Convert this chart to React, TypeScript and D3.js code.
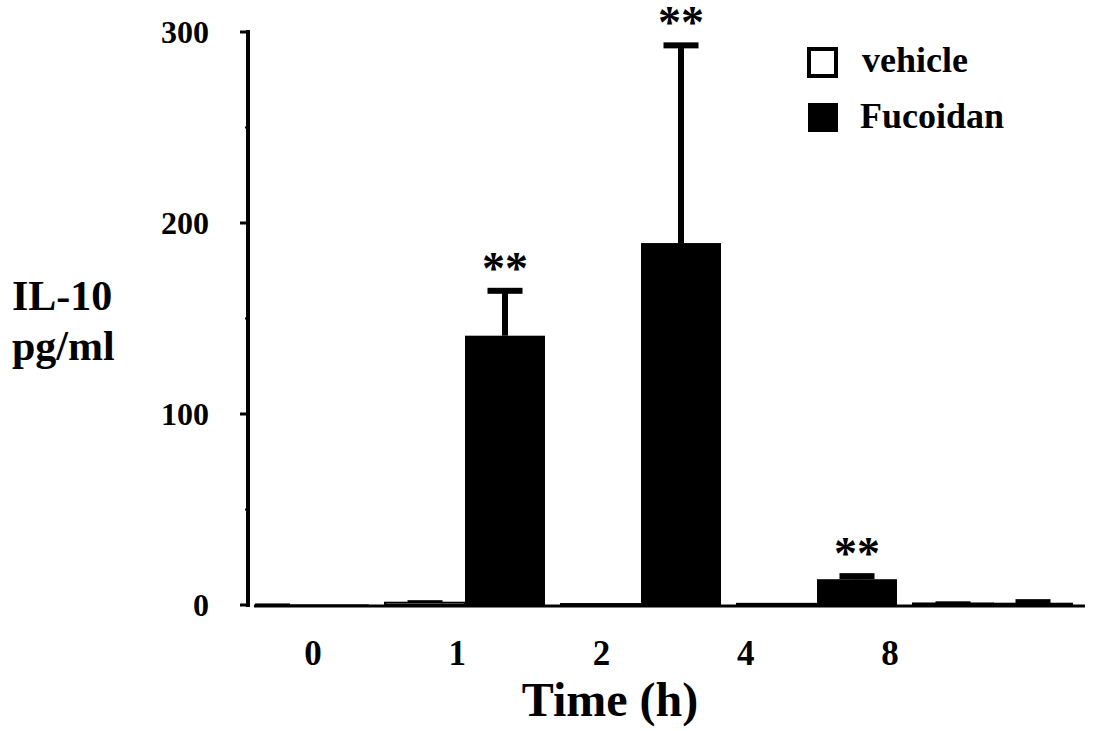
import React from "react"
import * as d3 from "d3"

// hours after treatment
const groups = ["0", "1", "2", "4", "8"]
// IL-10 (pg/ml), mean and SD
const vehicleMean = [0.3, 1.2, 0.5, 0.6, 0.8]
const vehicleErr = [0, 0.8, 0, 0, 0.6]
const fucoidanMean = [0.3, 141, 189.5, 13.5, 1.2]
const fucoidanErr = [0, 23.5, 103.5, 1.6, 0.3]
const marked = [false, true, true, true, false]
const yTicks = [0, 100, 200, 300]
const yMinor = [50, 150, 250]

const W = 1095
const H = 731
const FONT = '"Liberation Serif", "Times New Roman", serif'

export default function App() {
  const y = d3.scaleLinear().domain([0, 300]).range([605, 32])
  // bar pairs sit on one grid, the hour labels on another (as in the original)
  const pair = d3.scalePoint().domain(groups).range([289, 993])
  const label = d3.scalePoint().domain(groups).range([313, 890])
  const barW = 80
  const capW = 35
  const axisLeft = 256

  const bars = groups.map((g, i) => {
    const c = pair(g) as number
    return {
      g,
      vx: Math.max(c - barW, axisLeft),
      fx: c,
      v: vehicleMean[i],
      ve: vehicleErr[i],
      f: fucoidanMean[i],
      fe: fucoidanErr[i],
      star: marked[i],
    }
  })

  return (
    <svg width={W} height={H} style={{ position: "absolute", left: 0, top: 0, background: "#fff" }}
      fontFamily={FONT} fontWeight="bold">
      {bars.map(b => {
        const vw = b.fx - b.vx
        const fc = b.fx + barW / 2
        const vc = b.vx + vw / 2
        const capTop = y(b.f + b.fe)
        return (
          <g key={b.g}>
            {/* vehicle */}
            <rect x={b.vx} y={y(b.v)} width={vw} height={y(0) - y(b.v)} fill="#fff" stroke="#000" strokeWidth={2} />
            {b.ve > 0 && (
              <rect x={vc - capW / 2} y={y(b.v + b.ve) - 1} width={capW} height={y(b.v) - y(b.v + b.ve) + 1} fill="#000" />
            )}
            {/* fucoidan */}
            <rect x={b.fx} y={y(b.f)} width={barW} height={y(0) - y(b.f)} fill="#000" />
            {b.fe > 0 && (
              <g>
                <rect x={fc - 3} y={capTop} width={6} height={y(b.f) - capTop} fill="#000" />
                <rect x={fc - capW / 2} y={capTop - 3} width={capW} height={6} fill="#000" />
              </g>
            )}
            {b.star && (
              <text x={fc} y={capTop - 7} textAnchor="middle" fontSize={46}>**</text>
            )}
          </g>
        )
      })}

      {/* y axis */}
      <line x1={248} x2={248} y1={y(300) - 2} y2={y(0) + 2} stroke="#000" strokeWidth={4} />
      {yTicks.map(t => (
        <g key={t}>
          <line x1={240} x2={248} y1={y(t)} y2={y(t)} stroke="#000" strokeWidth={3} />
          <text x={209} y={y(t)} dy="0.35em" textAnchor="end" fontSize={32}>{t}</text>
        </g>
      ))}
      {yMinor.map(t => (
        <line key={t} x1={245} x2={248} y1={y(t)} y2={y(t)} stroke="#000" strokeWidth={2} />
      ))}

      {/* x axis */}
      <line x1={axisLeft - 2} x2={1085} y1={y(0) + 1} y2={y(0) + 1} stroke="#000" strokeWidth={3} />
      {groups.map(g => (
        <text key={g} x={label(g)} y={665} textAnchor="middle" fontSize={35}>{g}</text>
      ))}

      {/* axis titles */}
      <text x={12} y={310} fontSize={42}>IL-10</text>
      <text x={12} y={360} fontSize={42}>pg/ml</text>
      <text x={610} y={716} textAnchor="middle" fontSize={48}>Time (h)</text>

      {/* legend */}
      <rect x={809} y={49} width={27} height={27} fill="#fff" stroke="#000" strokeWidth={4} />
      <text x={862} y={72} fontSize={36}>vehicle</text>
      <rect x={808} y={103} width={30} height={29} fill="#000" />
      <text x={860} y={128} fontSize={36}>Fucoidan</text>
    </svg>
  )
}
